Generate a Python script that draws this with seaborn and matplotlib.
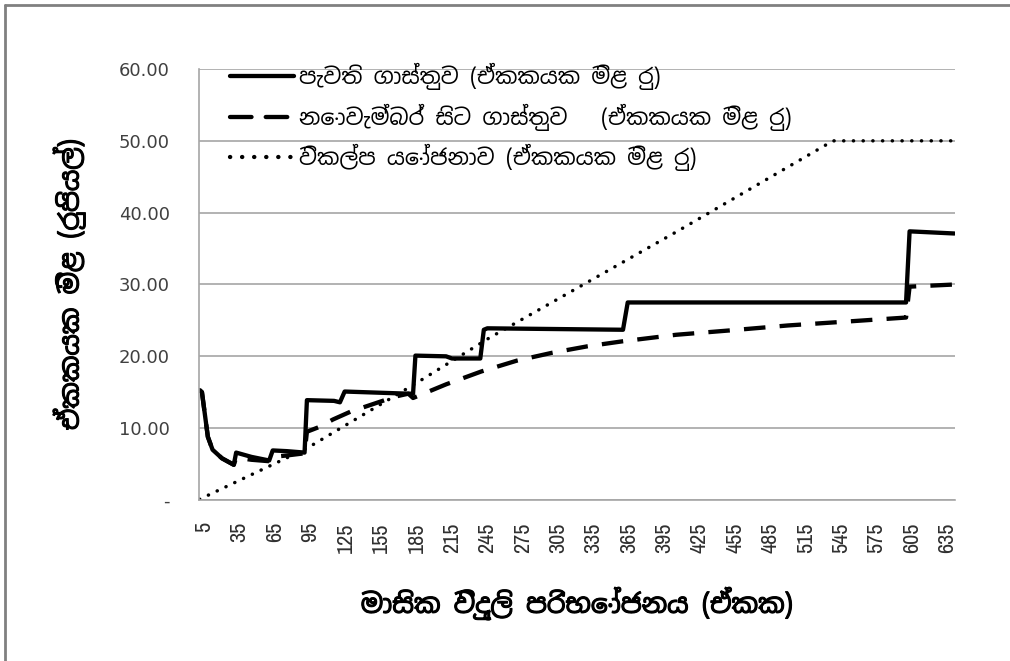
import matplotlib
matplotlib.use("Agg")
import matplotlib.pyplot as plt
import matplotlib.patheffects as pe
import seaborn as sns
import pandas as pd
from matplotlib import font_manager as fm

# ---- data ----
units_current = [1, 3, 8, 12, 20, 30, 32, 45, 60, 63, 75, 90, 92, 115, 120, 124,
                 178, 182, 184, 210, 215, 239, 242, 245, 360, 364, 600, 603, 641]
price_current = [15.3, 15.0, 8.8, 7.0, 5.8, 4.9, 6.6, 6.0, 5.5, 6.9, 6.8, 6.6, 13.9, 13.8, 13.6, 15.1,
                 14.8, 14.8, 20.1, 20.0, 19.7, 19.7, 23.7, 23.9, 23.7, 27.5, 27.5, 37.4, 37.1]

units_nov = [1, 3, 8, 12, 20, 30, 32, 45, 60, 63, 75, 90, 92, 103, 114, 129, 167, 178, 182,
             210, 240, 270, 300, 330, 360, 405, 450, 500, 555, 600, 603, 641]
price_nov = [15.3, 15.0, 8.8, 7.0, 5.8, 4.9, 5.9, 5.6, 5.4, 6.0, 6.2, 6.5, 9.5, 10.2, 11.2, 12.3, 14.4, 14.8, 14.2,
             16.1, 17.9, 19.4, 20.5, 21.4, 22.1, 23.0, 23.6, 24.3, 24.9, 25.4, 29.7, 30.0]

units_alt = [1, 92, 185, 247, 406, 538, 641]
price_alt = [0.1, 7.2, 16.3, 22.6, 37.4, 50.0, 50.0]

series_names = ["පැවති ගාස්තුව (ඒකකයක මිළ රු)",
                "නොවැම්බර් සිට ගාස්තුව   (ඒකකයක මිළ රු)",
                "විකල්ප යෝජනාව (ඒකකයක මිළ රු)"]
ytick_values = [0, 10, 20, 30, 40, 50, 60]
ytick_labels = ["-", "10.00", "20.00", "30.00", "40.00", "50.00", "60.00"]
xtick_values = [5, 35, 65, 95, 125, 155, 185, 215, 245, 275, 305, 335, 365, 395,
                425, 455, 485, 515, 545, 575, 605, 635]
x_label = "මාසික විදුලි පරිභෝජනය (ඒකක)"
y_label = "ඒකකයක මිළ (රුපියල්)"


def first_available(names):
    for n in names:
        try:
            fm.findfont(fm.FontProperties(family=n), fallback_to_default=False)
            return n
        except Exception:
            continue
    return "DejaVu Sans"


sinhala_font = first_available(["Noto Sans Sinhala", "Noto Serif Sinhala", "Abhaya Libre"])
narrow_font = first_available(["Liberation Sans Narrow", "Archivo Narrow", "DejaVu Sans"])
SIN = [sinhala_font, "DejaVu Sans"]

df = pd.concat([
    pd.DataFrame({"units": units_current, "price": price_current, "series": series_names[0]}),
    pd.DataFrame({"units": units_nov, "price": price_nov, "series": series_names[1]}),
    pd.DataFrame({"units": units_alt, "price": price_alt, "series": series_names[2]}),
], ignore_index=True)

sns.set_theme(style="white")
plt.rcParams["font.family"] = ["DejaVu Sans", sinhala_font]

fig = plt.figure(figsize=(10.10, 6.61), dpi=100)
ax = fig.add_axes([199 / 1010, 1 - 500 / 661, (955 - 199) / 1010, (500 - 69) / 661])

sns.lineplot(data=df, x="units", y="price", style="series", style_order=series_names,
             dashes={series_names[0]: "", series_names[1]: (5, 3.3), series_names[2]: (0.05, 2.75)},
             color="black", estimator=None, sort=False, ax=ax, legend=True,
             linewidth=3.1, dash_capstyle="round")
ax.lines[2].set_linewidth(2.5)
ax.lines[1].set_dash_capstyle("butt")

ax.set_xlim(0.5, 641.5)
ax.set_ylim(0, 60)
ax.set_yticks(ytick_values)
ax.set_yticklabels(ytick_labels, fontsize=13, color="#404040", family="DejaVu Sans")
ax.set_xticks(xtick_values)
ax.set_xticklabels([str(v) for v in xtick_values], rotation=90, fontsize=16,
                   color="#303030", family=narrow_font)
ax.tick_params(axis="y", length=0, pad=21)
ax.tick_params(axis="x", length=0, pad=16)
ax.grid(axis="y", color="#a6a6a6", linewidth=1.2)
ax.grid(axis="x", visible=False)
for s in ["right", "top"]:
    ax.spines[s].set_visible(False)
for s in ["left", "bottom"]:
    ax.spines[s].set_color("#a6a6a6")
    ax.spines[s].set_linewidth(1.2)

bold = [pe.Stroke(linewidth=0.8, foreground="black"), pe.Normal()]
ax.set_xlabel(x_label, fontsize=19, labelpad=25, family=SIN, color="black", path_effects=bold)
ax.set_ylabel(y_label, fontsize=19, labelpad=24, family=SIN, color="black", path_effects=bold)

h, l = ax.get_legend_handles_labels()
leg = ax.legend(h, l, loc="upper left", bbox_to_anchor=(0.041, 1.014), frameon=False,
                borderaxespad=0, borderpad=0,
                prop=fm.FontProperties(family=SIN, size=16),
                handlelength=2.9, handletextpad=0.2, labelspacing=0.6)
for t in leg.get_texts():
    t.set_color("black")

# outer border (top and left)
fig.add_artist(plt.Line2D([5 / 1010, 1], [1 - 5 / 661, 1 - 5 / 661], color="#808080", linewidth=2))
fig.add_artist(plt.Line2D([5 / 1010, 5 / 1010], [0, 1 - 5 / 661], color="#808080", linewidth=2))

fig.savefig("out.png", dpi=100)
